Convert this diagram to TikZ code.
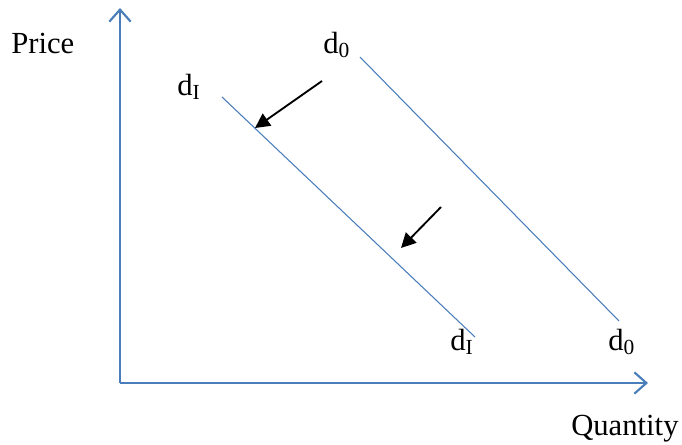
\documentclass[tikz,border=0pt]{standalone}
\usepackage{fontspec}
\setmainfont{Liberation Serif}
\usetikzlibrary{positioning, calc, arrows.meta}

\definecolor{axisblue}{RGB}{74,126,187}

\begin{document}
\begin{tikzpicture}[x=0.75pt, y=-0.75pt, >=Stealth,
    axisline/.style={axisblue, line width=1.6pt, -{Straight Barb[length=9pt, width=16pt, line width=1.6pt]}},
    demandline/.style={axisblue, line width=0.8pt},
    shiftarrow/.style={black, line width=1.4pt, -{Triangle[length=11pt, width=11pt]}},
    lbl/.style={font=\fontsize{23}{26}\selectfont, inner sep=0pt}]
    % Frame of the picture
    \useasboundingbox (0,0) rectangle (682,444);

    % Axes
    \coordinate (O) at (120,383);
    \coordinate (Ytop) at (120,8);
    \coordinate (Xend) at (648,383);
    \draw[axisline] (O) -- (Ytop);
    \draw[axisline] (O) -- (Xend);

    % Axis labels
    \node[lbl, anchor=base west] (price) at (11,53) {Price};
    \node[lbl, anchor=base west] (quantity) at (571,435) {Quantity};

    % Demand curves
    \coordinate (D0a) at (360,57);
    \coordinate (D0b) at (619,321);
    \coordinate (DIa) at (222,97);
    \coordinate (DIb) at (475,337);
    \draw[demandline] (D0a) -- (D0b);
    \draw[demandline] (DIa) -- (DIb);

    % Curve labels
    \node[lbl, anchor=base west] (d0top) at (323,53) {d\textsubscript{0}};
    \node[lbl, anchor=base west] (dItop) at (177,95) {d\textsubscript{I}};
    \node[lbl, anchor=base west] (dIbot) at (450,350) {d\textsubscript{I}};
    \node[lbl, anchor=base west] (d0bot) at (608,350) {d\textsubscript{0}};

    % Shift arrows (d0 moves to dI)
    \coordinate (S1a) at (322,81);
    \coordinate (S1b) at (255,128);
    \coordinate (S2a) at (441,207);
    \coordinate (S2b) at (401,248);
    \draw[shiftarrow] (S1a) -- (S1b);
    \draw[shiftarrow] (S2a) -- (S2b);

\end{tikzpicture}
\end{document}
